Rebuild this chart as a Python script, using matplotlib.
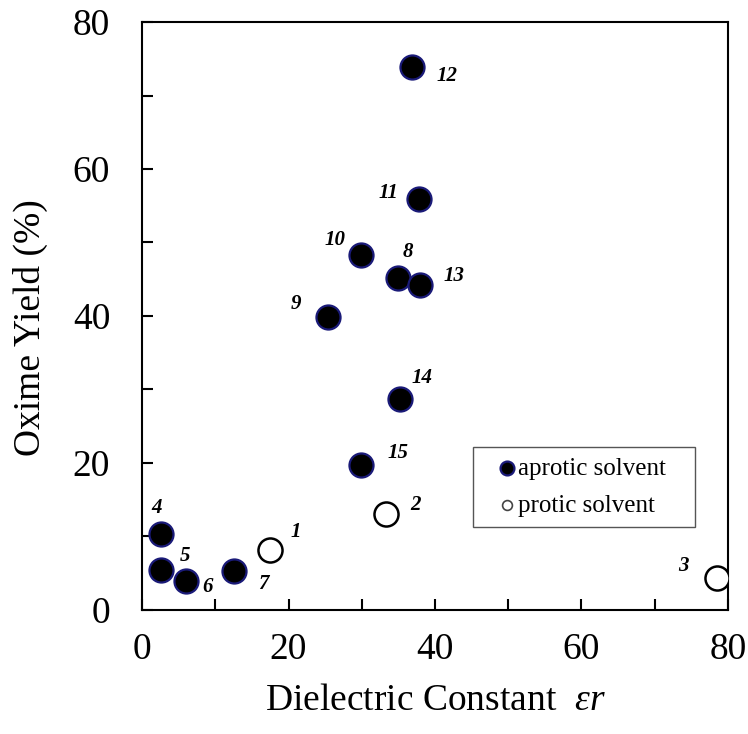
import matplotlib
matplotlib.use("Agg")
import matplotlib.pyplot as plt
from matplotlib.ticker import MultipleLocator

plt.rcParams['font.family'] = ['Liberation Serif', 'DejaVu Serif']
plt.rcParams['mathtext.fontset'] = 'custom'
plt.rcParams['mathtext.rm'] = 'Liberation Serif'
plt.rcParams['mathtext.it'] = 'Liberation Serif:italic'

# solvent number, dielectric constant, oxime yield
aprotic_ids = [4, 5, 6, 7, 8, 9, 10, 11, 12, 13, 14, 15]
aprotic_x = [2.55, 2.55, 6.0, 12.6, 35.0, 25.4, 29.9, 37.8, 36.9, 38.0, 35.2, 29.9]
aprotic_y = [10.3, 5.5, 4.0, 5.3, 45.2, 39.8, 48.3, 55.9, 73.9, 44.2, 28.7, 19.7]

protic_ids = [1, 2, 3]
protic_x = [17.5, 33.3, 78.5]
protic_y = [8.1, 13.1, 4.4]

# label offsets in pixels from each point
label_offsets = {
    1: (26, 18), 2: (30, 9), 3: (-33, 12), 4: (-4, 26), 5: (24, 14),
    6: (21, -6), 7: (29, -13), 8: (10, 26), 9: (-32, 13), 10: (-26, 15),
    11: (-30, 6), 12: (35, -9), 13: (34, 9), 14: (22, 21), 15: (37, 12),
}

fig = plt.figure(figsize=(7.48, 7.34), dpi=100)
ax = fig.add_axes([0.19, 0.169, 0.783, 0.801])

ax.scatter(aprotic_x, aprotic_y, s=300, c='black', edgecolors='#1a1a78',
           linewidths=1.6, zorder=3, label='aprotic solvent   ')
ax.scatter(protic_x, protic_y, s=300, c='white', edgecolors='black',
           linewidths=1.8, zorder=3, label='protic solvent')

for ids, xs, ys in [(aprotic_ids, aprotic_x, aprotic_y), (protic_ids, protic_x, protic_y)]:
    for n, x, y in zip(ids, xs, ys):
        ax.annotate(str(n), (x, y), xytext=label_offsets[n], textcoords='offset pixels',
                    ha='center', va='center', fontsize=15, fontweight='bold',
                    fontstyle='italic')

ax.set_xlim(0, 80)
ax.set_ylim(0, 80)
ax.xaxis.set_major_locator(MultipleLocator(20))
ax.xaxis.set_minor_locator(MultipleLocator(10))
ax.yaxis.set_major_locator(MultipleLocator(20))
ax.yaxis.set_minor_locator(MultipleLocator(10))
ax.tick_params(which='both', direction='in', length=8, width=1.5,
               top=False, right=False, labelsize=27)
ax.tick_params(axis='x', pad=16)
ax.tick_params(axis='y', pad=23)
for sp in ax.spines.values():
    sp.set_linewidth(1.5)

ax.set_xlabel(r'Dielectric Constant  $εr$', fontsize=27, labelpad=12)
ax.set_ylabel('Oxime Yield (%)', fontsize=27)
ax.yaxis.set_label_coords(-0.16, 0.48)

leg = ax.legend(loc='lower right', bbox_to_anchor=(0.944, 0.141), fontsize=18,
                handletextpad=-0.5, handlelength=1.9,
                fancybox=False, edgecolor='#555555', framealpha=1,
                borderpad=0.4, labelspacing=0.6, borderaxespad=0)
leg.get_frame().set_linewidth(1.0)
leg.legend_handles[0].set_sizes([100])
leg.legend_handles[1].set_sizes([50])
leg.legend_handles[1].set_edgecolor('#444444')
leg.legend_handles[1].set_linewidth(1.2)

fig.savefig('out.png', dpi=100)
